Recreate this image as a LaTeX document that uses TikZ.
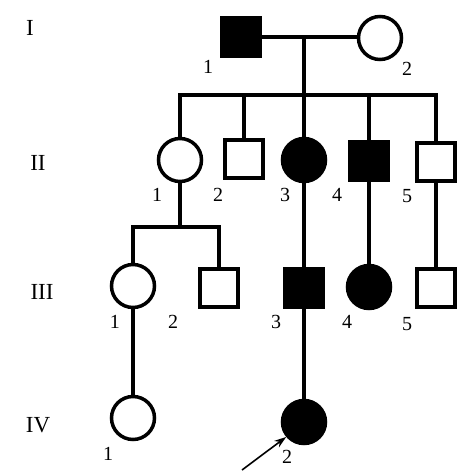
\documentclass[tikz,border=0pt]{standalone}
\usepackage{fontspec}
\setmainfont{Liberation Serif}
\usetikzlibrary{arrows.meta}
\begin{document}
\begin{tikzpicture}[x=1pt,y=-1pt,
  male/.style={draw,line width=3.5pt,minimum size=38pt,inner sep=0pt,fill=white},
  female/.style={draw,circle,line width=3.5pt,minimum size=43pt,inner sep=0pt,fill=white},
  aff/.style={fill=black},
  lin/.style={line width=4pt},
  gen/.style={font=\fontsize{23}{23}\selectfont,inner sep=0pt},
  num/.style={font=\fontsize{20}{20}\selectfont,inner sep=0pt}]
\useasboundingbox (0,0) rectangle (459,475);
% Generation I
\node[male,aff] (I1) at (241,37) {};
\node[female] (I2) at (380,38) {};
% Generation II
\node[female] (II1) at (180,160) {};
\node[male] (II2) at (244,159) {};
\node[female,aff] (II3) at (304,160) {};
\node[male,aff] (II4) at (369,161) {};
\node[male] (II5) at (436,162) {};
% Generation III
\node[female] (III1) at (133,286) {};
\node[male] (III2) at (219,288) {};
\node[male,aff] (III3) at (304,288) {};
\node[female,aff] (III4) at (369,287) {};
\node[male] (III5) at (436,288) {};
% Generation IV
\node[female] (IV1) at (133,418) {};
\node[female,aff] (IV2) at (304,422) {};
% coordinates
\coordinate (m1) at (304,37);
\coordinate (s1) at (304,95);
\coordinate (s2) at (180,227);
\coordinate (ar) at (242,470);
% connectors
\draw[lin] (I1.east) -- (I1 -| I2.west);
\draw[lin] (m1) -- (s1);
\draw[lin] ([xshift=-2pt]II1 |- s1) -- ([xshift=2pt]II5 |- s1);
\foreach \n in {II1,II2,II3,II4,II5} \draw[lin] (\n |- s1) -- (\n.north);
\draw[lin] (II1.south) -- (s2);
\draw[lin] ([xshift=-2pt]III1 |- s2) -- ([xshift=2pt]III2 |- s2);
\foreach \n in {III1,III2} \draw[lin] (\n |- s2) -- (\n.north);
\draw[lin] (II3.south) -- (III3.north);
\draw[lin] (II4.south) -- (III4.north);
\draw[lin] (II5.south) -- (III5.north);
\draw[lin] (III1.south) -- (IV1.north);
\draw[lin] (III3.south) -- (IV2.north);
\draw[line width=1.6pt,-{Stealth[length=12pt,width=8pt]}] (ar) -- (IV2.220);
% generation labels
\node[gen] (gI) at (30,28) {I};
\node[gen] (gII) at (38,163) {II};
\node[gen] (gIII) at (42,292) {III};
\node[gen] (gIV) at (38,425) {IV};
% numbers
\node[num] (nI1) at (208,67) {1};
\node[num] (nI2) at (407,69) {2};
\node[num] (nII1) at (157,195) {1};
\node[num] (nII2) at (218,195) {2};
\node[num] (nII3) at (285,195) {3};
\node[num] (nII4) at (337,195) {4};
\node[num] (nII5) at (407,196) {5};
\node[num] (nIII1) at (115,322) {1};
\node[num] (nIII2) at (173,322) {2};
\node[num] (nIII3) at (276,322) {3};
\node[num] (nIII4) at (347,322) {4};
\node[num] (nIII5) at (407,324) {5};
\node[num] (nIV1) at (108,454) {1};
\node[num] (nIV2) at (287,457) {2};
\end{tikzpicture}
\end{document}
